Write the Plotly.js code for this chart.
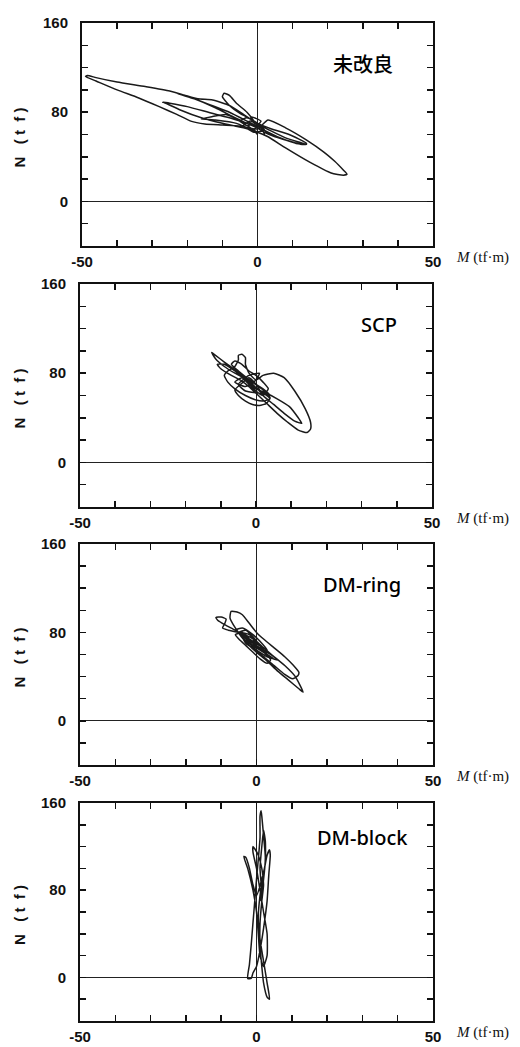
<!DOCTYPE html>
<html>
<head>
<meta charset="utf-8">
<script src="https://cdn.plot.ly/plotly-3.0.1.min.js"></script>
<style>html,body{margin:0;padding:0;background:#fff;}#chart{width:520px;height:1047px;}</style>
</head>
<body>
<div id="chart"></div>
<script>
// ---- data (M in tf·m, N in tf) ----
const panelLabels = ["未改良", "SCP", "DM-ring", "DM-block"];

const xTickVals = [-50, -40, -30, -20, -10, 0, 10, 20, 30, 40, 50];
const xTickText = ["-50", "", "", "", "", "0", "", "", "", "", "50"];
const yTickVals = [-40, -20, 0, 20, 40, 60, 80, 100, 120, 140, 160];
const yTickText = ["", "", "0", "", "", "", "80", "", "", "", "160"];

const p1M = [0, 2, 5, 8, 11, 14, 12, 8, 4, 1, -2, -5, -8, -10, -9.5, -8, -6, -3, -1, 0,
  -3, -7, -12, -18, -25, -32, -40, -46, -48.5, -49, -46, -40, -34, -28, -23, -19, -15, -10, -5, 0,
  3, 8, 14, 19, 22, 24.5, 25.5, 24.5, 21, 15, 8, 3, 0,
  -4, -10, -16, -22, -26.5, -27, -25, -20, -14, -8, -3, 0,
  -3, -8, -13, -18, -22.8, -21.5, -17, -12.8, -8, -4, 0,
  4, 9, 14, 13, 8, 3, 0,
  -2, 1, -1, 2, 0, -3, -6, -9, -13, -16, -12, -6, -1, 0,
  -2, -5, -3, 0, 2, -1, -4, -2, 1];
const p1N = [66, 62, 58, 55, 52, 51, 53, 57, 63, 68, 74, 79, 86, 94, 97, 95, 88, 80, 72, 66,
  70, 76, 84, 92, 99, 103, 107, 111, 113, 112, 108, 100, 93, 85, 78, 72, 69.5, 68.5, 67.5, 65,
  73, 66, 55, 44, 36, 28, 24.5, 23.5, 25.5, 35, 48, 58, 62,
  66, 70, 75, 82, 88.5, 89, 88, 85, 80, 75, 70, 67,
  72, 80, 86, 92, 96.7, 96, 92, 91, 86, 78, 70,
  65, 60, 52, 51, 55, 62, 68,
  76, 72, 64, 60, 70, 68, 74, 78, 76, 74, 73, 70, 63, 60,
  66, 72, 75, 70, 64, 62, 68, 72, 66];

const p2M = [0, -3, -6, -9, -11.5, -12.6, -11.5, -9, -6, -3, -1, 1, 3, 4, 2, 0, -3, -6, -8, -9, -8, -6, -5, -5, -4, -3, -3, -2, 0,
  2, 5, 8, 11, 14, 15.5, 15.5, 14.5, 12, 9, 6, 3, 0, -2, -4, -7, -10, -11, -9, -6, -3, 0,
  3, 6, 9.5, 12, 13, 11, 8, 5, 2, 0, -2, -4, -6, -5, -3, -1, 1, 3, 4, 2, -1, -5, -7, -6, -4, -2, 0, 2, 3.5, 2, 0, -2,
  -4, -6, -3, 0, 1, -2, -5, -3, 1, 4, 2, -1];
const p2N = [70, 75, 80, 86, 93, 98.6, 96, 90, 83, 76, 70, 64, 60, 57, 55, 56, 60, 66, 72, 78, 82, 86, 92, 96, 97, 94, 88, 80, 74,
  78, 80, 76, 64, 48, 36, 30, 26.8, 29, 36, 44, 53, 62, 68, 73, 78, 84, 88, 88, 82, 74, 66,
  62, 57, 50, 40, 35, 37, 44, 52, 60, 70, 76, 71, 65, 60, 55, 52, 51, 53, 58, 65, 72, 82, 88, 91, 88, 82, 78, 72, 66, 60, 64, 70,
  76, 72, 68, 74, 80, 78, 70, 64, 62, 60, 66, 72];

const p3M = [0, -3, -6, -9, -11, -11.5, -10, -8.6, -9, -9.6, -8, -5, -2, 0, 2, 5, 8, 11, 13.2, 12, 9, 6, 3, 0,
  -2, -4, -6, -7.5, -7.2, -5.5, -4, -2, 0, 2, 5, 8, 10.5, 12, 11.7, 10.2, 8, 5, 2, 0,
  -2, -4, -5, -3, -1, 1, 3, 4, 3, 1, -1, -3, -5, -6, -4, -2, 0, 2, 4, 6, 4, 1, -2, -4, -6, -4, -1, 1, 3, 2, 0, -1,
  -3, -5, -2, 0, 2, -1, -4, -3, 0, 3, 5, 2, -1, -3, -1, 1, 3];
const p3N = [70, 76, 82, 87, 91, 93.5, 94, 92, 88, 84, 82, 80, 76, 72, 66, 58, 50, 40, 26, 29, 37, 45, 54, 62,
  68, 75, 84, 93, 99, 98.5, 96, 88, 80, 74, 66, 58, 50, 44, 40.7, 38, 42, 50, 58, 63,
  70, 75, 80, 82, 76, 68, 60, 55, 52, 56, 62, 68, 74, 78, 80, 74, 68, 62, 57, 55, 60, 66, 72, 78, 82, 84, 78, 72, 64, 58, 62, 70,
  74, 80, 78, 70, 66, 72, 76, 70, 64, 58, 56, 62, 68, 74, 70, 64, 60];

const p4M = [1, 2, 2.5, 2, 1.5, 1.3, 1, 1, 0.5, 0, -0.5, -1, -1.5, -2, -2.5, -1.5, -1, 0, 1, 2, 3, 3.5, 3.9, 3.7, 3, 2, 1, 0.5, 1, 2, 3, 3.7,
  3, 2, 1.5, 1, 1, 1.5, 2, 1.5, 0.5, -0.5, -1, -1, 0, 1, 2, 3, 3, 2, 1, 0.5, 0, -1, -2.5, -3.6, -3, -2, -1, 0, 1.5, 2.5, 2.5, 2, 1.5, 1, 1.5];
const p4N = [70, 90, 110, 130, 148, 153, 148, 128, 108, 90, 70, 50, 30, 12, -1, -1, 4, 10, 25, 45, 70, 95, 112, 117, 112, 95, 75, 55, 35, 15, -5, -20,
  -18, -5, 10, 30, 50, 70, 85, 100, 112, 118, 120, 115, 100, 80, 60, 40, 20, 10, 20, 40, 60, 80, 100, 111, 110, 100, 85, 75, 90, 105, 125, 135, 120, 100, 80];

// ---- layout ----
const W = 520, H = 1047;
const boxes = [ // [left, right, top, bottom] in pixels
  [82, 433, 23, 246],
  [80, 432, 284, 507],
  [80, 433, 544, 765],
  [80, 433, 803, 1021]
];
const labelPos = [[30, 124], [35, 124], [30, 123], [30, 128]];
const seriesM = [p1M, p2M, p3M, p4M];
const seriesN = [p1N, p2N, p3N, p4N];

const traces = [];
const layout = {
  width: W, height: H,
  margin: {l: 0, r: 0, t: 0, b: 0},
  paper_bgcolor: '#fff', plot_bgcolor: '#fff',
  showlegend: false,
  font: {family: 'Liberation Sans, Arial, sans-serif', color: '#111'},
  annotations: []
};

for (let i = 0; i < 4; i++) {
  const s = i === 0 ? '' : String(i + 1);
  const b = boxes[i];
  traces.push({
    x: seriesM[i], y: seriesN[i], xaxis: 'x' + s, yaxis: 'y' + s,
    type: 'scatter', mode: 'lines',
    line: {color: '#1a1a1a', width: 1.5, shape: 'spline', smoothing: 0.5},
    hoverinfo: 'skip'
  });
  const common = {
    showline: true, linecolor: '#111', linewidth: 2, mirror: 'allticks',
    ticks: 'inside', ticklen: 6, tickwidth: 1.5, tickcolor: '#111',
    showgrid: false, zeroline: true, zerolinecolor: '#222', zerolinewidth: 1,
    tickmode: 'array', fixedrange: true,
    tickfont: {family: 'Liberation Sans, Arial, sans-serif', size: 15, color: '#111', weight: 'bold'}
  };
  layout['xaxis' + s] = Object.assign({}, common, {
    domain: [b[0] / W, b[1] / W], anchor: 'y' + s, range: [-50, 50],
    tickvals: xTickVals, ticktext: xTickText, ticklabelstandoff: 1
  });
  layout['yaxis' + s] = Object.assign({}, common, {
    domain: [1 - b[3] / H, 1 - b[2] / H], anchor: 'x' + s, range: [-40, 160],
    tickvals: yTickVals, ticktext: yTickText, ticklabelstandoff: 9
  });
  // panel label
  layout.annotations.push({
    xref: 'x' + s, yref: 'y' + s, x: labelPos[i][0], y: labelPos[i][1],
    text: panelLabels[i], showarrow: false,
    font: {family: i === 0 ? 'Noto Sans CJK JP' : 'Noto Sans, Open Sans, sans-serif', size: 20, color: '#000', weight: 500}
  });
  // y title
  layout.annotations.push({
    xref: 'paper', yref: 'paper', x: 19 / W, y: 1 - ((b[2] + b[3]) / 2 + 3) / H,
    text: 'N&nbsp;&nbsp;&nbsp;(&nbsp;t&nbsp;&nbsp;f&nbsp;)', textangle: -90, showarrow: false,
    xanchor: 'center', yanchor: 'middle',
    font: {family: 'Liberation Sans, Arial, sans-serif', size: 15, color: '#111', weight: 'bold'}
  });
  // x title
  layout.annotations.push({
    xref: 'paper', yref: 'paper', x: 454 / W, y: 1 - (b[3] + 11) / H,
    text: '<i>M</i> (tf·m)', showarrow: false, xanchor: 'left', yanchor: 'middle',
    font: {family: 'Liberation Serif, Times New Roman, serif', size: 15, color: '#111'}
  });
}

Plotly.newPlot('chart', traces, layout, {staticPlot: true, displayModeBar: false});
</script>
</body>
</html>
